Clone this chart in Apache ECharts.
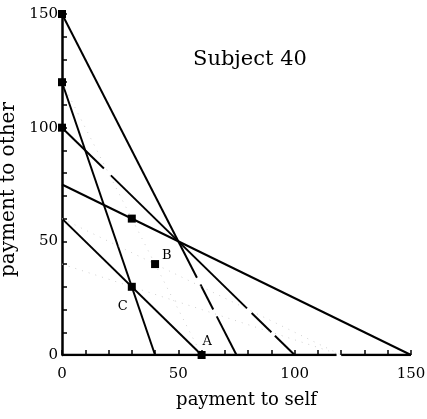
<!DOCTYPE html>
<html>
<head>
<meta charset="utf-8">
<script src="https://cdn.jsdelivr.net/npm/echarts@6/dist/echarts.min.js"></script>
<style>
html,body{margin:0;padding:0;background:#fff;}
#chart{width:427px;height:419px;}
</style>
</head>
<body>
<div id="chart"></div>
<script>
// budget lines: [x0, y0, x1, y1]
var budgetLines = [
    [0, 150, 75, 0],
    [0, 120, 40, 0],
    [0, 100, 100, 0],
    [0, 75, 150, 0],
    [0, 60, 60, 0]
];
// breaks in the printed lines (x ranges), same order as budgetLines
var lineGaps = [
    [[58, 59.5], [65, 66.5]],
    [],
    [[18, 21], [79.5, 81.5], [90, 91.5]],
    [],
    []
];
// faint dotted lines
var faintLines = [
    [0, 120, 60, 0],
    [0, 60, 120, 0],
    [0, 40, 120, 0]
];
var choices = [[0, 150], [0, 120], [0, 100], [30, 60], [40, 40], [30, 30], [60, 0]];
var choiceLabels = ['', '', '', '', 'B', 'C', 'A'];
var xTicks = [0, 50, 100, 150];
var yTicks = [0, 50, 100, 150];
var xAxisBreak = [118, 120];

var font = '"DejaVu Serif", "Liberation Serif", serif';

function yAt(l, x) {
    return l[1] + (l[3] - l[1]) * (x - l[0]) / (l[2] - l[0]);
}

var series = [];
budgetLines.forEach(function (l, i) {
    var cuts = [l[0]];
    lineGaps[i].forEach(function (g) { cuts.push(g[0], g[1]); });
    cuts.push(l[2]);
    for (var k = 0; k < cuts.length; k += 2) {
        series.push({
            type: 'line',
            data: [[cuts[k], yAt(l, cuts[k])], [cuts[k + 1], yAt(l, cuts[k + 1])]],
            symbol: 'none',
            silent: true,
            lineStyle: { color: '#000', width: 2 }
        });
    }
});
faintLines.forEach(function (l) {
    series.push({
        type: 'line',
        data: [[l[0], l[1]], [l[2], l[3]]],
        symbol: 'none',
        silent: true,
        lineStyle: { color: '#cfcfcf', width: 1, type: [1, 6] }
    });
});
// x axis baseline with its break
series.push({
    type: 'line', symbol: 'none', silent: true,
    data: [[0, 0], [xAxisBreak[0], 0]],
    lineStyle: { color: '#000', width: 2.5 }
});
series.push({
    type: 'line', symbol: 'none', silent: true,
    data: [[xAxisBreak[1], 0], [150, 0]],
    lineStyle: { color: '#000', width: 2.5 }
});
series.push({
    type: 'scatter',
    symbol: 'rect',
    symbolSize: 8,
    clip: false,
    z: 5,
    itemStyle: { color: '#000', opacity: 1 },
    data: choices.map(function (p, i) {
        var lab = choiceLabels[i];
        var pos = lab === 'A' ? [5, -16] : lab === 'B' ? [11, -11] : [-10, 17];
        return {
            value: p,
            label: {
                show: lab !== '',
                formatter: lab,
                position: pos,
                fontFamily: font,
                fontSize: 13,
                color: '#000'
            }
        };
    })
});

var chart = echarts.init(document.getElementById('chart'));
chart.setOption({
    animation: false,
    title: {
        text: 'Subject 40',
        left: 188,
        top: 44,
        textStyle: { fontFamily: font, fontSize: 21, fontWeight: 'normal', color: '#000' }
    },
    grid: { left: 62, right: 16, top: 14, bottom: 64, outerBoundsMode: 'none' },
    xAxis: {
        type: 'value',
        min: 0, max: 150, interval: 10,
        name: 'payment to self',
        nameLocation: 'middle',
        nameGap: 36,
        nameTextStyle: { fontFamily: font, fontSize: 18, color: '#000', padding: [0, 0, 0, 20] },
        axisLine: { show: false },
        axisTick: { show: true, inside: true, length: 5, lineStyle: { color: '#000', width: 1.5 } },
        splitLine: { show: false },
        axisLabel: {
            fontFamily: font, fontSize: 15, color: '#000', margin: 12,
            formatter: function (v) { return xTicks.indexOf(v) >= 0 ? v : ''; }
        }
    },
    yAxis: {
        type: 'value',
        min: 0, max: 150, interval: 10,
        name: 'payment to other',
        nameLocation: 'middle',
        nameGap: 31,
        nameTextStyle: { fontFamily: font, fontSize: 20, color: '#000', padding: [0, 10, 0, 0] },
        axisLine: { show: true, lineStyle: { color: '#000', width: 2.5 } },
        axisTick: { show: true, inside: true, length: 5, lineStyle: { color: '#000', width: 1.5 } },
        splitLine: { show: false },
        axisLabel: {
            fontFamily: font, fontSize: 15, color: '#000', margin: 4,
            formatter: function (v) { return yTicks.indexOf(v) >= 0 ? v : ''; }
        }
    },
    series: series
});
</script>
</body>
</html>
